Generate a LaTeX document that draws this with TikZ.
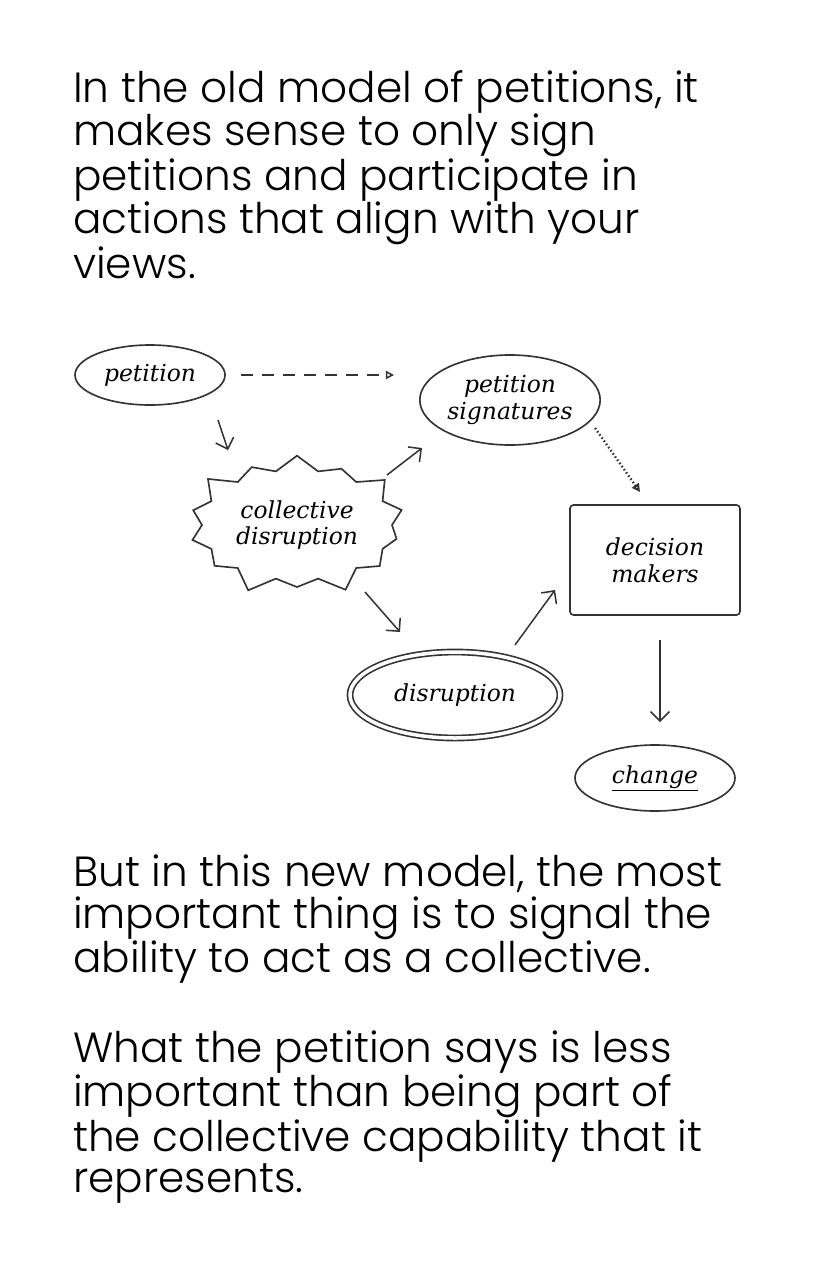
\documentclass[tikz,border=0pt]{standalone}
\usepackage{fontspec}
\setmainfont{Poppins Light}
\newfontfamily\hand{DejaVu Serif}
\usetikzlibrary{shapes.geometric,shapes.symbols,arrows.meta,calc}
\begin{document}
\begin{tikzpicture}[x=0.03cm,y=-0.03cm,
  para/.style={anchor=north west,align=left,inner sep=0,font=\fontsize{36}{35.5}\selectfont},
  hnode/.style={font=\hand\itshape\fontsize{20}{23}\selectfont,draw=black!80,line width=1.4pt,align=center,inner sep=1pt},
  arr/.style={-{Straight Barb[length=8pt]},line width=1.3pt,black!80},
  tri/.style={-{Triangle[open,length=7pt,width=7pt]},line width=1.3pt,black!80}]
\useasboundingbox (0,0) rectangle (825,1275);
\node[para] (t1) at (73,70) {In the old model of petitions, it\\makes sense to only sign\\petitions and participate in\\actions that align with your\\views.};
\node[hnode,ellipse,minimum width=4.5cm,minimum height=1.8cm] (pet) at (150,375) {petition};
\node[hnode,ellipse,minimum width=5.4cm,minimum height=2.7cm] (sig) at (510,400) {petition\\signatures};
\node[hnode,starburst,starburst points=14,starburst point height=0.6cm,minimum width=6.9cm,minimum height=4.5cm] (col) at (297,525) {collective\\disruption};
\node[hnode,rectangle,rounded corners=3pt,minimum width=5.1cm,minimum height=3.3cm] (dec) at (655,560) {decision\\makers};
\node[hnode,ellipse,double,double distance=3pt,minimum width=6.3cm,minimum height=2.58cm] (dis) at (455,695) {disruption};
\node[hnode,ellipse,minimum width=4.8cm,minimum height=1.98cm] (chg) at (655,778) {\underline{change}};
\draw[tri,dashed,dash pattern=on 10pt off 8pt] ($(pet.east)+(15,0)$) -- ($(sig.west)+(-25,-25)$);
\draw[arr] (218,420) -- (228,450);
\draw[arr] (387,475) -- (422,448);
\draw[tri,dotted,line width=2pt] (595,428) -- (640,492);
\draw[arr] (365,592) -- (400,632);
\draw[arr] (515,645) -- (555,590);
\draw[arr] (660,640) -- (660,722);
\node[para] (t2) at (73,855) {But in this new model, the most\\important thing is to signal the\\ability to act as a collective.};
\node[para] (t3) at (73,1031) {What the petition says is less\\important than being part of\\the collective capability that it\\represents.};
\end{tikzpicture}
\end{document}
